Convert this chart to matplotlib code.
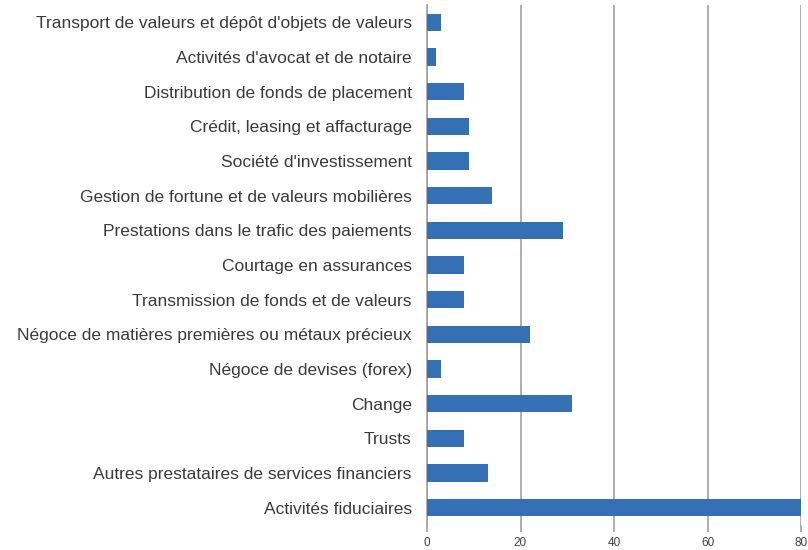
import matplotlib.pyplot as plt

categories = [
    "Transport de valeurs et dépôt d'objets de valeurs",
    "Activités d'avocat et de notaire",
    "Distribution de fonds de placement",
    "Crédit, leasing et affacturage",
    "Société d'investissement",
    "Gestion de fortune et de valeurs mobilières",
    "Prestations dans le trafic des paiements",
    "Courtage en assurances",
    "Transmission de fonds et de valeurs",
    "Négoce de matières premières ou métaux précieux",
    "Négoce de devises (forex)",
    "Change",
    "Trusts",
    "Autres prestataires de services financiers",
    "Activités fiduciaires",
]
values = [3, 2, 8, 9, 9, 14, 29, 8, 8, 22, 3, 31, 8, 13, 80]
xticks = [0, 20, 40, 60, 80]

plt.rcParams['font.family'] = ['Liberation Sans', 'DejaVu Sans']

fig = plt.figure(figsize=(8.08, 5.50), dpi=100)
ax = fig.add_axes([427 / 808, 1 - 525 / 550, 374 / 808, 520 / 550])

ypos = list(range(len(categories)))
ax.barh(ypos, values, height=0.5, color='#3570b5', zorder=3)
ax.set_ylim(len(categories) - 0.5, -0.5)
ax.set_xlim(0, 80)
ax.set_yticks(ypos)
ax.set_yticklabels(categories, fontsize=12.5, color='#3a3a3a')
ax.set_xticks(xticks)
ax.set_xticklabels([str(v) for v in xticks], fontsize=8.5, color='#404040')

ax.grid(axis='x', color='#a0a0a0', linewidth=1.2, zorder=0)
for s in ['top', 'right', 'bottom']:
    ax.spines[s].set_visible(False)
ax.spines['left'].set_color('#a0a0a0')
ax.spines['left'].set_linewidth(1.2)
ax.tick_params(axis='y', length=0, pad=11)
ax.tick_params(axis='x', length=5, color='#a0a0a0', width=1.2, pad=4)

fig.savefig('out.png', dpi=100)
